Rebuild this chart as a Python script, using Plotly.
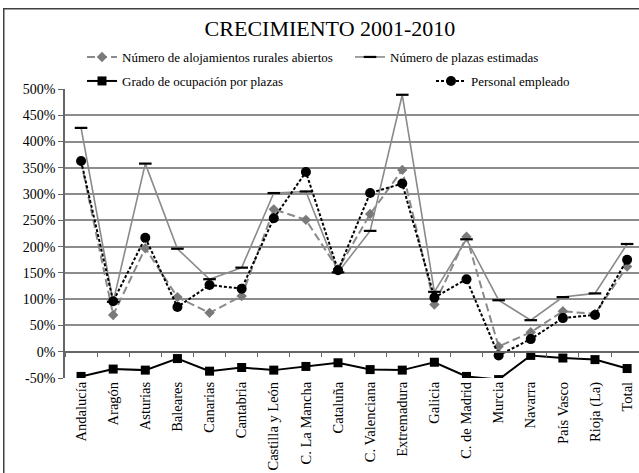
import plotly.graph_objects as go

categories = ["Andalucía", "Aragón", "Asturias", "Baleares", "Canarias", "Cantabria",
              "Castilla y León", "C. La Mancha", "Cataluña", "C. Valenciana", "Extremadura",
              "Galicia", "C. de Madrid", "Murcia", "Navarra", "País Vasco", "Rioja (La)", "Total"]

alojamientos = [362, 70, 197, 104, 74, 106, 271, 251, 157, 262, 346, 90, 219, 10, 37, 77, 72, 162]
plazas = [426, 95, 358, 196, 138, 160, 302, 305, 151, 230, 489, 114, 214, 98, 60, 104, 111, 205]
grado = [-47, -33, -35, -13, -37, -30, -35, -28, -21, -34, -35, -20, -47, -53, -7, -12, -15, -32]
personal = [363, 96, 217, 85, 127, 120, 254, 342, 155, 302, 320, 103, 138, -7, 24, 64, 70, 175]

y_ticks = [-50, 0, 50, 100, 150, 200, 250, 300, 350, 400, 450, 500]
y_labels = ["-50%", "0%", "50%", "100%", "150%", "200%", "250%", "300%", "350%", "400%", "450%", "500%"]
grid_ticks = [50, 100, 150, 200, 250, 300, 350, 400, 450]

FONT = "Liberation Serif"
GRAY = "#8a8a8a"

W, H = 639, 473
L, R, T, B = 65, 0, 89, 95
plot_h = H - T - B
plot_w = W - L - R

fig = go.Figure()

fig.add_trace(go.Scatter(
    x=categories, y=alojamientos, mode="lines+markers",
    name="Número de alojamientos rurales abiertos",
    line=dict(color=GRAY, width=2, dash="8px,4px"),
    marker=dict(symbol="diamond", size=8, color="#7a7a7a"),
    legend="legend",
))
fig.add_trace(go.Scatter(
    x=categories, y=plazas, mode="lines+markers",
    name="Número de plazas estimadas",
    line=dict(color=GRAY, width=1.6),
    marker=dict(symbol="line-ew", size=9, color="black", line=dict(width=2.2, color="black")),
    legend="legend2",
))
fig.add_trace(go.Scatter(
    x=categories, y=grado, mode="lines+markers",
    name="Grado de ocupación por plazas",
    line=dict(color="black", width=2),
    marker=dict(symbol="square", size=9, color="black"),
    legend="legend3",
))
fig.add_trace(go.Scatter(
    x=categories, y=personal, mode="lines+markers",
    name="Personal empleado",
    line=dict(color="black", width=2, dash="3px,2px"),
    marker=dict(symbol="circle", size=10, color="black"),
    legend="legend4",
))
# helper trace so the overlay x axis (tick marks on the 0% line) is rendered
fig.add_trace(go.Scatter(x=[], y=[], xaxis="x2", yaxis="y", showlegend=False, hoverinfo="skip"))

def cx(p):
    return p / W

def cy(p):
    return 1 - p / H

def leg(xpx, ypx):
    return dict(orientation="h", xref="container", yref="container",
                x=cx(xpx), y=cy(ypx), xanchor="left", yanchor="middle",
                bgcolor="rgba(0,0,0,0)",
                font=dict(family=FONT, size=13, color="black"))

def px_x(p):
    return (p - L) / plot_w

def px_y(p):
    return (H - B - p) / plot_h

fig.update_layout(
    width=W, height=H,
    showlegend=True,
    margin=dict(l=L, r=R, t=T, b=B, pad=0, autoexpand=False),
    paper_bgcolor="white", plot_bgcolor="white",
    font=dict(family=FONT, size=14, color="black"),
    title=dict(text="CRECIMIENTO 2001-2010", x=cx(330), xref="container", xanchor="center",
               y=cy(28), yref="container", yanchor="middle",
               font=dict(family=FONT, size=22, color="black")),
    legend=leg(82, 57),
    legend2=leg(350, 57),
    legend3=leg(82, 81),
    legend4=leg(431, 81),
    xaxis=dict(type="category", range=[-0.5, 17.37], tickangle=-90,
               showgrid=False, showline=False, ticks="", zeroline=False, automargin=False,
               tickfont=dict(family=FONT, size=14.5, color="black")),
    xaxis2=dict(overlaying="x", anchor="free", position=50 / 550, range=[-0.5, 17.37],
                tickmode="linear", tick0=0.5, dtick=1, ticks="outside", ticklen=5,
                tickcolor="#666", showline=True, linecolor="#666", linewidth=1.5,
                showgrid=False, showticklabels=False, zeroline=False, automargin=False),
    yaxis=dict(range=[-50, 500], tickmode="array", tickvals=y_ticks, ticktext=y_labels,
               ticks="outside", ticklen=5, tickcolor="#666",
               showline=True, linecolor="#666", linewidth=1.5,
               showgrid=False, zeroline=False, automargin=False,
               minor=dict(tickmode="array", tickvals=grid_ticks, showgrid=True,
                          gridcolor="#8c8c8c", gridwidth=1.5, ticks=""),
               tickfont=dict(family=FONT, size=14, color="black")),
    annotations=[dict(text=" ", showarrow=False, xref="paper", yref="paper",
                      x=px_x(3), y=px_y(8), xanchor="left", yanchor="top",
                      width=700, height=600, bordercolor="#404040", borderwidth=1.5,
                      borderpad=0)],
)

fig.write_html("out.html", config={"displayModeBar": False},
               post_script="document.body.style.margin='0';document.body.style.overflow='hidden';")
